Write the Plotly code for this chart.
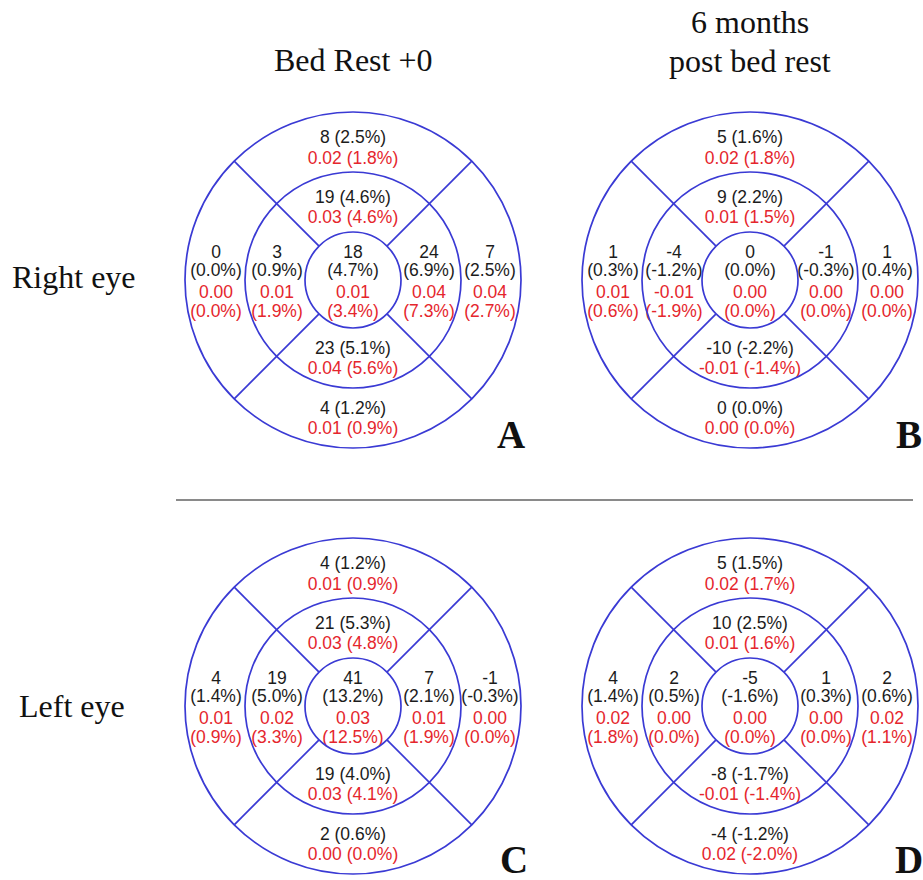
import plotly.graph_objects as go
import math

# ---------------- data ----------------
sectors = ["center", "inner_top", "inner_bottom", "inner_left", "inner_right",
           "outer_top", "outer_bottom", "outer_left", "outer_right"]

A_thick = [18, 19, 23, 3, 24, 8, 4, 0, 7]
A_thick_pct = [4.7, 4.6, 5.1, 0.9, 6.9, 2.5, 1.2, 0.0, 2.5]
A_vol = [0.01, 0.03, 0.04, 0.01, 0.04, 0.02, 0.01, 0.00, 0.04]
A_vol_pct = [3.4, 4.6, 5.6, 1.9, 7.3, 1.8, 0.9, 0.0, 2.7]

B_thick = [0, 9, -10, -4, -1, 5, 0, 1, 1]
B_thick_pct = [0.0, 2.2, -2.2, -1.2, -0.3, 1.6, 0.0, 0.3, 0.4]
B_vol = [0.00, 0.01, -0.01, -0.01, 0.00, 0.02, 0.00, 0.01, 0.00]
B_vol_pct = [0.0, 1.5, -1.4, -1.9, 0.0, 1.8, 0.0, 0.6, 0.0]

C_thick = [41, 21, 19, 19, 7, 4, 2, 4, -1]
C_thick_pct = [13.2, 5.3, 4.0, 5.0, 2.1, 1.2, 0.6, 1.4, -0.3]
C_vol = [0.03, 0.03, 0.03, 0.02, 0.01, 0.01, 0.00, 0.01, 0.00]
C_vol_pct = [12.5, 4.8, 4.1, 3.3, 1.9, 0.9, 0.0, 0.9, 0.0]

D_thick = [-5, 10, -8, 2, 1, 5, -4, 4, 2]
D_thick_pct = [-1.6, 2.5, -1.7, 0.5, 0.3, 1.5, -1.2, 1.4, 0.6]
D_vol = [0.00, 0.01, -0.01, 0.00, 0.00, 0.02, 0.02, 0.02, 0.02]
D_vol_pct = [0.0, 1.6, -1.4, 0.0, 0.0, 1.7, -2.0, 1.8, 1.1]

panel_letters = ["A", "B", "C", "D"]
column_titles = ["Bed Rest +0", "6 months", "post bed rest"]
row_titles = ["Right eye", "Left eye"]

# ---------------- layout helpers ----------------
W, H = 923, 880
BLUE = "rgb(58,58,212)"
BLACK = "#1c1c1c"
RED = "#e5262d"
SANS = "Liberation Sans, Arial, sans-serif"
SERIF = "Liberation Serif, Times New Roman, serif"

R_IN, R_MID, R_OUT = 48, 108, 168
centers = [(353, 280), (750, 280), (353, 706), (750, 706)]

# text offsets (dx, [dy rows])
two_line = {"inner_top": (0, -81, -61), "inner_bottom": (0, 70, 90),
            "outer_top": (0, -141, -120), "outer_bottom": (0, 130, 150)}
four_line = {"center": 0, "inner_left": -76, "inner_right": 76,
             "outer_left": -137, "outer_right": 137}
four_dy = [-26, -8, 14, 33]

panels = [
    (A_thick, A_thick_pct, A_vol, A_vol_pct),
    (B_thick, B_thick_pct, B_vol, B_vol_pct),
    (C_thick, C_thick_pct, C_vol, C_vol_pct),
    (D_thick, D_thick_pct, D_vol, D_vol_pct),
]

fig = go.Figure()
shapes = []

for (cx, cy), (th, thp, vo, vop) in zip(centers, panels):
    for r in (R_IN, R_MID, R_OUT):
        shapes.append(dict(type="circle", xref="x", yref="y",
                           x0=cx - r, x1=cx + r, y0=cy - r, y1=cy + r,
                           line=dict(color=BLUE, width=1.7)))
    for ang in (45, 135, 225, 315):
        a = math.radians(ang)
        shapes.append(dict(type="line", xref="x", yref="y",
                           x0=cx + R_IN * math.cos(a), y0=cy + R_IN * math.sin(a),
                           x1=cx + R_OUT * math.cos(a), y1=cy + R_OUT * math.sin(a),
                           line=dict(color=BLUE, width=1.7)))

    bx, by, bt, rx, ry, rt = [], [], [], [], [], []
    for i, s in enumerate(sectors):
        t_str = f"{th[i]} ({thp[i]:.1f}%)"
        v_str = f"{vo[i]:.2f} ({vop[i]:.1f}%)"
        if s in two_line:
            dx, d1, d2 = two_line[s]
            bx.append(cx + dx); by.append(cy + d1); bt.append(t_str)
            rx.append(cx + dx); ry.append(cy + d2); rt.append(v_str)
        else:
            dx = four_line[s]
            bx += [cx + dx, cx + dx]
            by += [cy + four_dy[0], cy + four_dy[1]]
            bt += [f"{th[i]}", f"({thp[i]:.1f}%)"]
            rx += [cx + dx, cx + dx]
            ry += [cy + four_dy[2], cy + four_dy[3]]
            rt += [f"{vo[i]:.2f}", f"({vop[i]:.1f}%)"]
    fig.add_trace(go.Scatter(x=bx, y=by, text=bt, mode="text",
                             textposition="middle center",
                             textfont=dict(family=SANS, size=17.5, color=BLACK),
                             hoverinfo="skip", showlegend=False))
    fig.add_trace(go.Scatter(x=rx, y=ry, text=rt, mode="text",
                             textposition="middle center",
                             textfont=dict(family=SANS, size=17.5, color=RED),
                             hoverinfo="skip", showlegend=False))

# separator
shapes.append(dict(type="line", xref="x", yref="y", x0=176, x1=913, y0=500, y1=500,
                   line=dict(color="#8a8a8a", width=2)))

annotations = []
def ann(text, x, y, size, bold=False):
    annotations.append(dict(text=f"<b>{text}</b>" if bold else text, x=x, y=y,
                            xref="x", yref="y", showarrow=False,
                            xanchor="center", yanchor="middle",
                            font=dict(family=SERIF, size=size, color="#111111")))

ann(column_titles[0], 353, 60, 32)
ann(column_titles[1], 750, 22, 32)
ann(column_titles[2], 750, 61, 32)
ann(row_titles[0], 74, 277, 32)
ann(row_titles[1], 72, 706, 32)
letter_pos = [(511, 434), (909, 434), (514, 859), (909, 859)]
for L, (lx, ly) in zip(panel_letters, letter_pos):
    ann(L, lx, ly, 39, bold=True)

fig.update_layout(
    width=W, height=H,
    margin=dict(l=0, r=0, t=0, b=0),
    paper_bgcolor="white", plot_bgcolor="white",
    xaxis=dict(range=[0, W], visible=False, fixedrange=True),
    yaxis=dict(range=[H, 0], visible=False, fixedrange=True),
    shapes=shapes, annotations=annotations,
)

fig.write_html("out.html", config={"displayModeBar": False},
               post_script="document.body.style.margin='0px';document.body.style.overflow='hidden';")
